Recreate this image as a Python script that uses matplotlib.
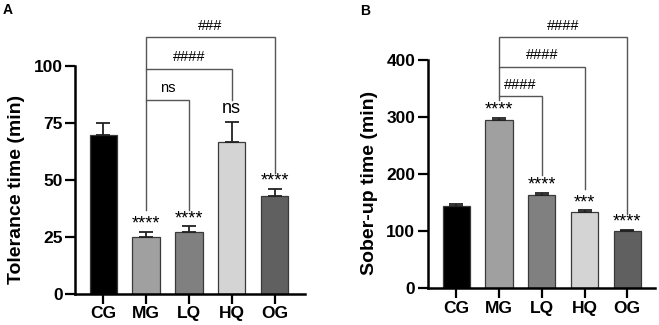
import matplotlib
matplotlib.use("Agg")
import matplotlib.pyplot as plt

plt.rcParams["font.family"] = ["Liberation Sans", "DejaVu Sans"]

groups = ["CG", "MG", "LQ", "HQ", "OG"]
colors = ["#000000", "#a0a0a0", "#808080", "#d4d4d4", "#606060"]

# panel A: tolerance time
tol_mean = [69.5, 25.0, 27.0, 66.5, 43.0]
tol_err = [5.4, 2.2, 2.5, 9.0, 2.9]
tol_stars = ["", "****", "****", "ns", "****"]
# (from, to, bracket y, leg-bottom left, leg-bottom right, label)
tol_brackets = [(1, 2, 85.2, 36.5, 36.5, "ns"),
                (1, 3, 98.8, 85.2, 85.2, "####"),
                (1, 4, 112.7, 98.8, 52.9, "###")]

# panel B: sober-up time
sob_mean = [144, 296, 163, 133, 100]
sob_err = [4, 3, 4, 4, 3]
sob_stars = ["", "****", "****", "***", "****"]
sob_brackets = [(1, 2, 337, 330, 198, "####"),
                (1, 3, 389, 337, 175, "####"),
                (1, 4, 440, 389, 131, "####")]

W, H = 659, 325
fig = plt.figure(figsize=(W / 100, H / 100), dpi=100)


def px_axes(x0, x1, y0, y1):
    return fig.add_axes([x0 / W, 1 - y0 / H, (x1 - x0) / W, (y0 - y1) / H])


def panel(ax, mean, err, stars, brackets, ylim, yticks, xlim, star_off):
    x = range(len(groups))
    ax.bar(x, mean, width=0.64, color=colors, edgecolor="#3a3a3a", linewidth=0.9, zorder=2)
    ax.errorbar(x, mean, yerr=[[0] * len(err), err], fmt="none", ecolor="#222222",
                elinewidth=1.3, capsize=5.2, capthick=1.3, zorder=3)
    for i, s in enumerate(stars):
        if not s:
            continue
        top = mean[i] + err[i]
        if s == "ns":
            ax.text(i, top + star_off * 0.6, s, ha="center", va="bottom", fontsize=13, clip_on=False)
        else:
            ax.text(i, top - star_off * 0.1, s, ha="center", va="bottom", fontsize=13, clip_on=False)
    for a, b, y, ya, yb, lab in brackets:
        ax.plot([a, a, b, b], [ya, y, y, yb], color="#555555", lw=1.0, clip_on=False,
                solid_joinstyle="miter")
        ax.text((a + b) / 2, y + star_off * 0.55, lab, ha="center", va="bottom", fontsize=10.5,
                clip_on=False)
    ax.set_ylim(*ylim)
    ax.set_yticks(yticks)
    ax.set_xlim(*xlim)
    ax.set_xticks(list(x))
    ax.set_xticklabels(groups)
    for s in ["top", "right"]:
        ax.spines[s].set_visible(False)
    for s in ["left", "bottom"]:
        ax.spines[s].set_linewidth(1.8)
    ax.tick_params(axis="both", length=7, width=1.6, labelsize=12.5, pad=2)
    for t in ax.get_xticklabels() + ax.get_yticklabels():
        t.set_fontweight("bold")


axA = px_axes(75, 305, 293.5, 66)
panel(axA, tol_mean, tol_err, tol_stars, tol_brackets, (0, 100), [0, 25, 50, 75, 100],
      (-0.66, 4.71), 3.5)
axB = px_axes(427.7, 655, 288.3, 60.3)
panel(axB, sob_mean, sob_err, sob_stars, sob_brackets, (0, 400), [0, 100, 200, 300, 400],
      (-0.67, 4.65), 14)

fig.text(16.7 / W, 1 - 189 / H, "Tolerance time (min)", rotation=90, ha="center", va="center",
         fontsize=14, fontweight="bold")
fig.text(369.5 / W, 1 - 183 / H, "Sober-up time (min)", rotation=90, ha="center", va="center",
         fontsize=14, fontweight="bold")
fig.text(3 / W, 1 - 3 / H, "A", ha="left", va="top", fontsize=10, fontweight="bold")
fig.text(360 / W, 1 - 4 / H, "B", ha="left", va="top", fontsize=10, fontweight="bold")

fig.savefig("out.png", dpi=100)
